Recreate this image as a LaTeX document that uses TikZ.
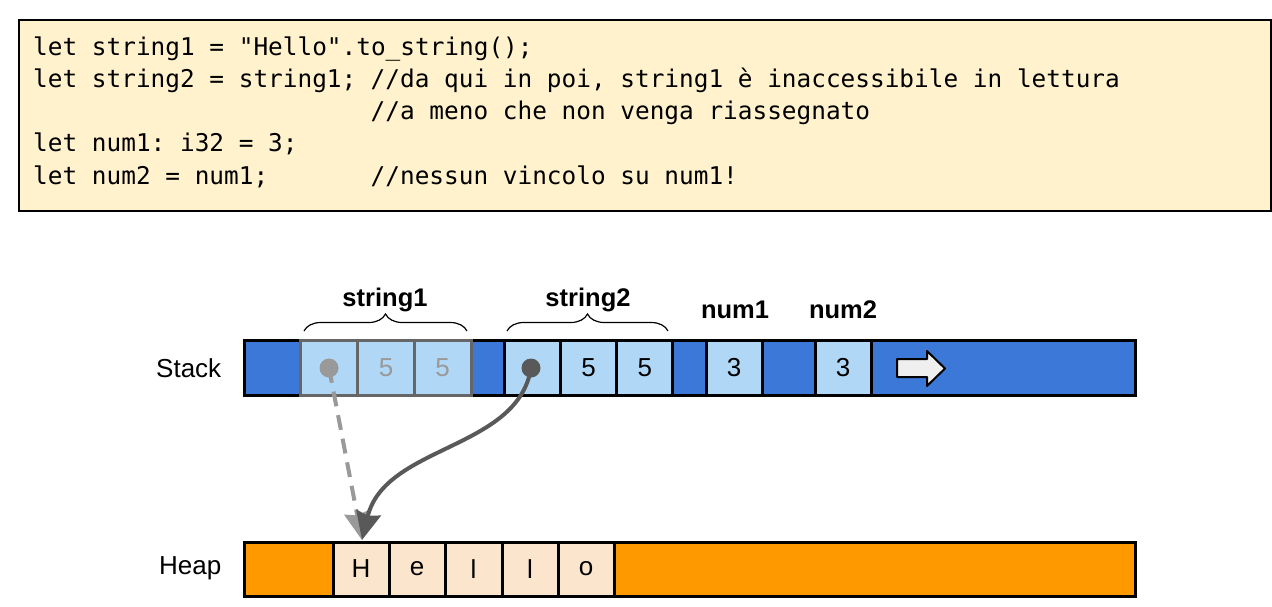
\documentclass[tikz,border=0pt]{standalone}
\usepackage{fontspec}
\setmainfont{Liberation Sans}
\setmonofont{DejaVu Sans Mono}
\usetikzlibrary{arrows.meta,decorations.pathreplacing}
\definecolor{codebg}{HTML}{FFF2CC}
\definecolor{stackblue}{HTML}{3C78D8}
\definecolor{cellblue}{HTML}{B0D8F6}
\definecolor{heaporange}{HTML}{FF9900}
\definecolor{heapcell}{HTML}{FCE5CD}
\definecolor{ptrgray}{HTML}{999999}
\definecolor{ptrdark}{HTML}{595959}
\definecolor{grpgray}{HTML}{666666}
\definecolor{arrowfill}{HTML}{EFEFEF}
\begin{document}
\begin{tikzpicture}[x=1pt,y=1pt,
  codeline/.style={anchor=base west,inner sep=0,font=\fontsize{24.4}{29}\selectfont\ttfamily},
  bar/.style={draw=black,line width=3pt,minimum width=891pt,inner sep=0},
  cell/.style={draw=black,line width=3pt,fill=cellblue,minimum height=55pt,inner sep=0,font=\fontsize{26}{30}\selectfont},
  gcell/.style={cell,draw=grpgray,text=ptrgray},
  hcell/.style={cell,fill=heapcell,minimum height=54pt},
  lbl/.style={anchor=base,inner sep=0,font=\fontsize{25.5}{30}\selectfont\bfseries},
  side/.style={anchor=base west,inner sep=0,font=\fontsize{26}{30}\selectfont},
  bracestyle/.style={decorate,decoration={brace,amplitude=17pt},line width=1.2pt},
  ptr/.style={line width=4pt,-{Stealth[length=28pt,width=25pt,inset=3pt]}}
]
\useasboundingbox (0,0) rectangle (1272,-606);
% code box
\node[draw=black,line width=1.3pt,fill=codebg,minimum width=1252pt,minimum height=191pt,inner sep=0] (code) at (645,-115.5) {};
\node[codeline] (l1) at (33,-55) {let string1 = "Hello".to\_string();};
\node[codeline] (l2) at (33,-87.3) {let string2 = string1;};
\node[codeline] (c2) at (370.5,-87.3) {//da qui in poi, string1 è inaccessibile in lettura};
\node[codeline] (c3) at (370.5,-119.6) {//a meno che non venga riassegnato};
\node[codeline] (l4) at (33,-151.9) {let num1: i32 = 3;};
\node[codeline] (l5) at (33,-184.2) {let num2 = num1;};
\node[codeline] (c5) at (370.5,-184.2) {//nessun vincolo su num1!};
% stack
\node[bar,fill=stackblue,minimum height=55pt] (stack) at (689.5,-367.5) {};
\node[gcell,minimum width=56.7pt] (s1a) at (329.3,-367.5) {};
\node[gcell,minimum width=56.7pt] (s1b) at (386,-367.5) {5};
\node[gcell,minimum width=56.7pt] (s1c) at (442.7,-367.5) {5};
\node[cell,minimum width=56.3pt] (s2a) at (532.2,-367.5) {};
\node[cell,minimum width=56.3pt] (s2b) at (588.5,-367.5) {5};
\node[cell,minimum width=56.3pt] (s2c) at (644.8,-367.5) {5};
\node[cell,minimum width=56pt] (n1) at (734,-367.5) {3};
\node[cell,minimum width=56pt] (n2) at (843,-367.5) {3};
\draw[line width=2pt,line join=round,fill=arrowfill] (897,-359) -- (927,-359) -- (927,-351) -- (945,-368.5) -- (927,-386) -- (927,-377) -- (897,-377) -- cycle;
% labels
\node[side] (stacklbl) at (156,-377) {Stack};
\node[side] (heaplbl) at (159,-574) {Heap};
\node[lbl] (t1) at (385,-306) {string1};
\node[lbl] (t2) at (588,-306) {string2};
\node[lbl] (t3) at (735,-318) {num1};
\node[lbl] (t4) at (843,-318) {num2};
\coordinate (b1l) at (304,-331);
\coordinate (b1r) at (467,-331);
\coordinate (b2l) at (507,-331);
\coordinate (b2r) at (668,-331);
\draw[bracestyle] (b1l) -- (b1r);
\draw[bracestyle] (b2l) -- (b2r);
% heap
\node[bar,fill=heaporange,minimum height=54pt] (heap) at (689.5,-569) {};
\node[hcell,minimum width=56pt] (hH) at (361,-569) {H};
\node[hcell,minimum width=56pt] (he) at (417,-569) {e};
\node[hcell,minimum width=57pt] (hl1) at (473.5,-569) {l};
\node[hcell,minimum width=56pt] (hl2) at (530,-569) {l};
\node[hcell,minimum width=56pt] (ho) at (586,-569) {o};
% pointers
\coordinate (p1) at (329,-368);
\coordinate (p2) at (531,-368);
\coordinate (tip) at (362,-540);
\draw[ptr,ptrgray,dash pattern=on 15pt off 9pt] (p1) -- (tip);
\draw[ptr,ptrdark] (p2) .. controls (518,-450) and (385,-445) .. (tip);
\fill[ptrgray] (p1) circle (9.5);
\fill[ptrdark] (p2) circle (9.5);
\end{tikzpicture}
\end{document}
